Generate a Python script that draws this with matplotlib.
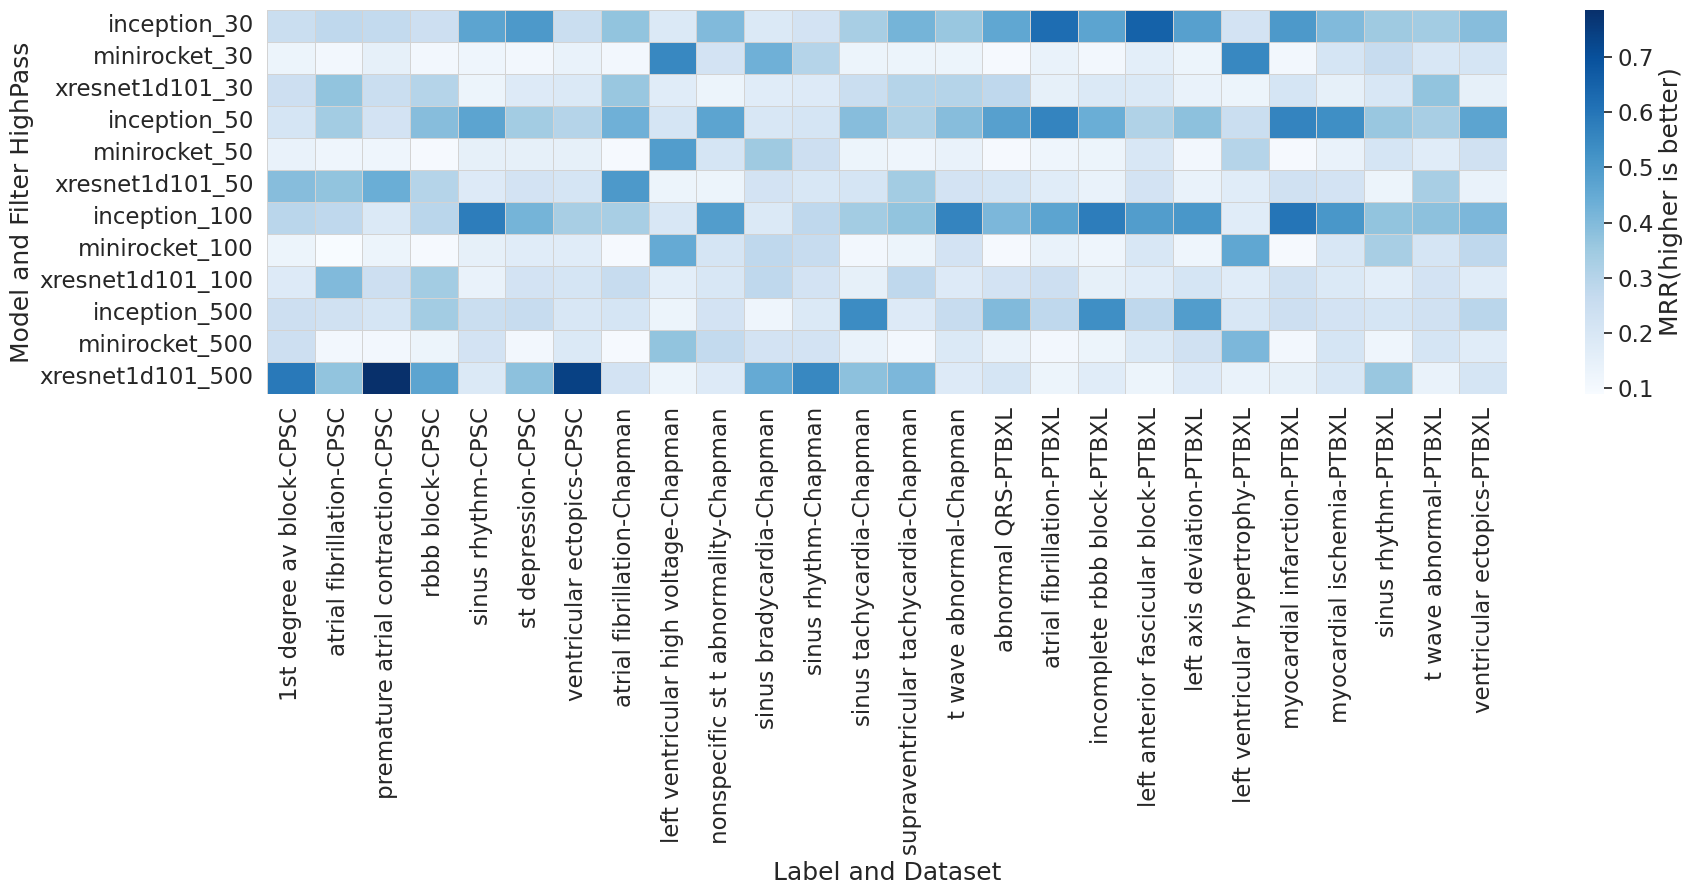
import numpy as np
import pandas as pd
import matplotlib
matplotlib.use("Agg")
import matplotlib.pyplot as plt
import seaborn as sns

# filas: modelo + filtro pasa-altos
models = ["inception_30", "minirocket_30", "xresnet1d101_30",
          "inception_50", "minirocket_50", "xresnet1d101_50",
          "inception_100", "minirocket_100", "xresnet1d101_100",
          "inception_500", "minirocket_500", "xresnet1d101_500"]

# columnas: etiqueta + dataset
labels = ["1st degree av block-CPSC", "atrial fibrillation-CPSC",
          "premature atrial contraction-CPSC", "rbbb block-CPSC",
          "sinus rhythm-CPSC", "st depression-CPSC", "ventricular ectopics-CPSC",
          "atrial fibrillation-Chapman", "left ventricular high voltage-Chapman",
          "nonspecific st t abnormality-Chapman", "sinus bradycardia-Chapman",
          "sinus rhythm-Chapman", "sinus tachycardia-Chapman",
          "supraventricular tachycardia-Chapman", "t wave abnormal-Chapman",
          "abnormal QRS-PTBXL", "atrial fibrillation-PTBXL",
          "incomplete rbbb block-PTBXL", "left anterior fascicular block-PTBXL",
          "left axis deviation-PTBXL", "left ventricular hypertrophy-PTBXL",
          "myocardial infarction-PTBXL", "myocardial ischemia-PTBXL",
          "sinus rhythm-PTBXL", "t wave abnormal-PTBXL", "ventricular ectopics-PTBXL"]

# MRR por fila
inception_30 = [0.25, 0.28, 0.27, 0.24, 0.47, 0.50, 0.25, 0.37, 0.19, 0.40, 0.19, 0.22, 0.33,
                0.42, 0.36, 0.46, 0.62, 0.47, 0.65, 0.48, 0.22, 0.50, 0.40, 0.35, 0.34, 0.39]
minirocket_30 = [0.13, 0.11, 0.15, 0.11, 0.12, 0.11, 0.14, 0.11, 0.55, 0.22, 0.43, 0.30, 0.13,
                 0.13, 0.13, 0.10, 0.14, 0.11, 0.16, 0.13, 0.55, 0.11, 0.21, 0.26, 0.20, 0.21]
xresnet_30 = [0.24, 0.37, 0.25, 0.30, 0.13, 0.18, 0.19, 0.36, 0.17, 0.13, 0.17, 0.18, 0.25,
              0.30, 0.30, 0.28, 0.15, 0.19, 0.19, 0.14, 0.13, 0.21, 0.15, 0.20, 0.37, 0.15]
inception_50 = [0.21, 0.34, 0.22, 0.39, 0.47, 0.34, 0.30, 0.43, 0.21, 0.47, 0.20, 0.21, 0.39,
                0.31, 0.39, 0.48, 0.56, 0.44, 0.31, 0.38, 0.25, 0.56, 0.53, 0.36, 0.33, 0.47]
minirocket_50 = [0.14, 0.12, 0.12, 0.10, 0.15, 0.15, 0.15, 0.10, 0.49, 0.21, 0.35, 0.24, 0.13,
                 0.12, 0.14, 0.10, 0.12, 0.13, 0.20, 0.11, 0.30, 0.10, 0.14, 0.21, 0.17, 0.23]
xresnet_50 = [0.39, 0.37, 0.44, 0.30, 0.18, 0.22, 0.21, 0.50, 0.13, 0.13, 0.22, 0.20, 0.21,
              0.34, 0.22, 0.21, 0.17, 0.14, 0.22, 0.14, 0.17, 0.23, 0.22, 0.13, 0.33, 0.14]
inception_100 = [0.29, 0.28, 0.19, 0.29, 0.58, 0.42, 0.33, 0.33, 0.20, 0.49, 0.19, 0.28, 0.34,
                 0.37, 0.56, 0.41, 0.47, 0.58, 0.49, 0.51, 0.17, 0.60, 0.51, 0.37, 0.38, 0.41]
minirocket_100 = [0.13, 0.09, 0.13, 0.10, 0.15, 0.17, 0.17, 0.10, 0.45, 0.21, 0.28, 0.26, 0.11,
                  0.13, 0.22, 0.10, 0.14, 0.12, 0.20, 0.12, 0.46, 0.10, 0.20, 0.33, 0.21, 0.28]
xresnet_100 = [0.18, 0.40, 0.24, 0.34, 0.14, 0.22, 0.21, 0.26, 0.16, 0.20, 0.28, 0.22, 0.15,
               0.28, 0.18, 0.22, 0.24, 0.15, 0.17, 0.21, 0.17, 0.23, 0.19, 0.16, 0.22, 0.17]
inception_500 = [0.24, 0.23, 0.21, 0.34, 0.25, 0.26, 0.20, 0.21, 0.13, 0.22, 0.12, 0.19, 0.54,
                 0.18, 0.26, 0.40, 0.28, 0.53, 0.28, 0.49, 0.20, 0.24, 0.22, 0.21, 0.23, 0.29]
minirocket_500 = [0.24, 0.11, 0.11, 0.13, 0.22, 0.11, 0.19, 0.10, 0.37, 0.27, 0.22, 0.22, 0.14,
                  0.11, 0.19, 0.14, 0.11, 0.13, 0.19, 0.23, 0.41, 0.11, 0.21, 0.12, 0.21, 0.17]
xresnet_500 = [0.59, 0.37, 0.785, 0.47, 0.19, 0.38, 0.74, 0.22, 0.13, 0.18, 0.45, 0.55, 0.38,
               0.41, 0.18, 0.21, 0.13, 0.17, 0.13, 0.18, 0.14, 0.15, 0.20, 0.36, 0.14, 0.21]

rows = [inception_30, minirocket_30, xresnet_30, inception_50, minirocket_50, xresnet_50,
        inception_100, minirocket_100, xresnet_100, inception_500, minirocket_500, xresnet_500]
df = pd.DataFrame(rows, index=models, columns=labels)

sns.set_theme(font_scale=1.5)

fig = plt.figure(figsize=(16.94, 8.96), dpi=100)
ax = fig.add_axes([0.1576, 0.5603, 0.732, 0.4286])
cax = fig.add_axes([0.9357, 0.5603, 0.0112, 0.4286])

sns.heatmap(df, ax=ax, cbar_ax=cax, cmap="Blues", linewidths=0.5, linecolor="lightgray",
            cbar_kws={"label": "MRR(higher is better)"})

ax.set_xlabel("Label and Dataset")
ax.set_ylabel("Model and Filter HighPass")
ax.set_xticklabels(ax.get_xticklabels(), rotation=90)
ax.set_yticklabels(ax.get_yticklabels(), rotation=0)

fig.savefig("out.png", dpi=100)
